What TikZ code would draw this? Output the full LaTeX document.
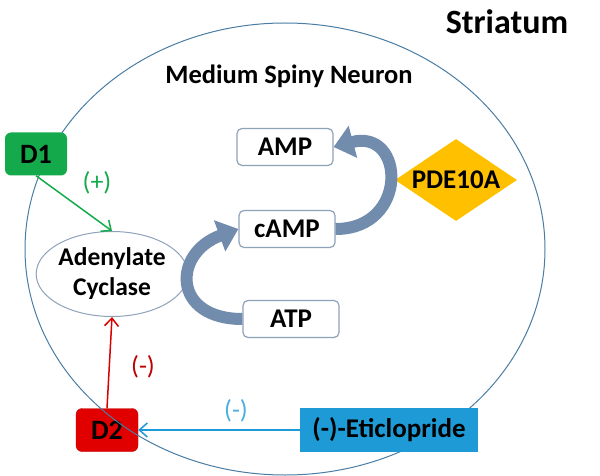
\documentclass[tikz,border=0pt]{standalone}
\usepackage{fontspec}
\setmainfont{Carlito}
\usetikzlibrary{calc,shapes.geometric,arrows.meta}

\definecolor{cellline}{RGB}{74,125,163}
\definecolor{boxline}{RGB}{142,162,186}
\definecolor{cycarrow}{RGB}{114,140,173}
\definecolor{dgreen}{RGB}{20,170,75}
\definecolor{dred}{RGB}{225,0,0}
\definecolor{eblue}{RGB}{30,155,215}
\definecolor{pdeyellow}{RGB}{255,192,0}

\tikzset{
  molbox/.style={draw=boxline,line width=1.2pt,fill=white,rounded corners=5pt,
    minimum width=96pt,minimum height=37pt,inner sep=0pt,
    font=\fontsize{27}{30}\selectfont\bfseries},
  recep/.style={rounded corners=6pt,minimum width=62pt,minimum height=43pt,inner sep=0pt,
    font=\fontsize{28}{30}\selectfont\bfseries},
  sign/.style={font=\fontsize{26}{28}\selectfont},
  thinarrow/.style={line width=1.5pt,-{Straight Barb[length=8pt,width=14pt]}},
  bigarrow/.style={line width=12pt,draw=cycarrow,-{Triangle[length=20pt,width=32pt]}},
}

\begin{document}
\begin{tikzpicture}[x=1pt,y=1pt]
    \useasboundingbox (0,0) rectangle (600,-476);
    \node[recep,fill=dred,draw=dred!85!black] (d2) at (107,-430) {D2};
    \draw[cellline,line width=1pt] (285,-249) ellipse [x radius=260,y radius=226];

    \node[font=\fontsize{34}{36}\selectfont\bfseries] (striatum) at (507,-22) {Striatum};
    \node[font=\fontsize{26.5}{30}\selectfont\bfseries] (msn) at (289,-76) {Medium Spiny Neuron};

    \node[recep,fill=dgreen] (d1) at (36,-154) {D1};
    \node[ellipse,draw=boxline,line width=1pt,fill=white,minimum width=135pt,minimum height=85pt,
        inner sep=0pt,align=center,font=\fontsize{25.5}{30}\selectfont\bfseries] (ac) at (112,-274)
        {Adenylate\\Cyclase};
    \node[molbox] (amp) at (285,-147) {AMP};
    \node[molbox] (camp) at (287,-229) {cAMP};
    \node[molbox] (atp) at (291,-319) {ATP};
    \node[diamond,fill=pdeyellow,aspect=1.5,minimum width=122pt,minimum height=82pt,inner sep=0pt,
        font=\fontsize{27}{30}\selectfont\bfseries] (pde) at (456,-180) {PDE10A};
    \node[fill=eblue,minimum width=178pt,minimum height=44pt,inner sep=0pt,
        font=\fontsize{27}{30}\selectfont\bfseries] (etic) at (389,-430) {(-)-Eticlopride};

    \draw[bigarrow] (atp.west) to[out=180,in=200,looseness=2] (camp.west);
    \draw[bigarrow] (camp.east) to[out=0,in=15,looseness=2.3] (amp.east);

    \draw[thinarrow,dgreen] (d1.south) -- (ac.north);
    \draw[thinarrow,red!85!black] (d2.north) -- (ac.south);
    \draw[thinarrow,eblue] (etic.west) -- (d2.east);

    \node[sign,text=dgreen] (plus) at (97,-183) {(+)};
    \node[sign,text=red!75!black] (minusred) at (143,-367) {(-)};
    \node[sign,text=eblue!80] (minusblue) at (236,-411) {(-)};
\end{tikzpicture}
\end{document}
